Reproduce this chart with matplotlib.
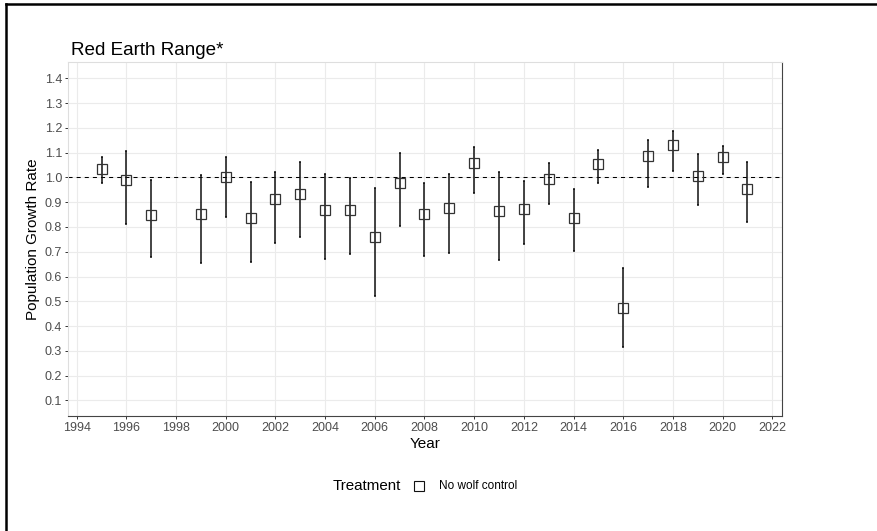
import matplotlib
matplotlib.use("Agg")
import matplotlib.pyplot as plt
from matplotlib.lines import Line2D

plt.rcParams["font.family"] = ["Liberation Sans", "DejaVu Sans"]

title = "Red Earth Range*"
treatment = "No wolf control"

years = [1995, 1996, 1997, 1999, 2000, 2001, 2002, 2003, 2004, 2005, 2006,
         2007, 2008, 2009, 2010, 2011, 2012, 2013, 2014, 2015, 2016, 2017,
         2018, 2019, 2020, 2021]
rate = [1.034, 0.988, 0.849, 0.854, 1.003, 0.836, 0.911, 0.933, 0.868, 0.869,
        0.760, 0.978, 0.854, 0.875, 1.059, 0.864, 0.873, 0.994, 0.836, 1.056,
        0.471, 1.086, 1.130, 1.005, 1.083, 0.955]
lower = [0.978, 0.811, 0.679, 0.654, 0.841, 0.659, 0.736, 0.758, 0.669, 0.690,
         0.522, 0.803, 0.681, 0.694, 0.938, 0.667, 0.730, 0.893, 0.702, 0.977,
         0.316, 0.962, 1.025, 0.887, 1.012, 0.821]
upper = [1.081, 1.105, 0.988, 1.008, 1.081, 0.981, 1.020, 1.061, 1.013, 0.998,
         0.957, 1.100, 0.978, 1.013, 1.124, 1.020, 0.984, 1.059, 0.954, 1.112,
         0.636, 1.151, 1.187, 1.095, 1.128, 1.063]

x_ticks = list(range(1994, 2023, 2))
y_ticks = [round(0.1 * i, 1) for i in range(1, 15)]

W, H = 877, 531
fig = plt.figure(figsize=(W / 100, H / 100), dpi=100)
ax = fig.add_axes([68 / W, 1 - 416 / H, (781.7 - 68) / W, (416 - 62) / H])

err = [[r - lo for r, lo in zip(rate, lower)], [up - r for r, up in zip(rate, upper)]]
ax.errorbar(years, rate, yerr=err, fmt="none", ecolor="#111111",
            elinewidth=1.1, capsize=1.0, capthick=1.1, zorder=3)
ax.plot(years, rate, linestyle="none", marker="s", markersize=6.7,
        markerfacecolor="none", markeredgecolor="#333333",
        markeredgewidth=0.9, zorder=4)
ax.axhline(1.0, color="black", linewidth=0.75, dashes=(3.9, 3.9), zorder=2)

ax.set_xlim(1993.65, 2022.38)
ax.set_ylim(0.037, 1.466)
ax.set_xticks(x_ticks)
ax.set_yticks(y_ticks)
ax.set_yticklabels([f"{v:.1f}" for v in y_ticks])
ax.grid(True, color="#EBEBEB", linewidth=0.8, zorder=0)
ax.set_axisbelow(True)
ax.tick_params(axis="both", length=2.5, width=0.7, color="#333333",
               labelsize=9, labelcolor="#4D4D4D", pad=1.8)

for side in ["top", "left"]:
    ax.spines[side].set_color("#DEDEDE")
    ax.spines[side].set_linewidth(0.8)
for side in ["right", "bottom"]:
    ax.spines[side].set_color("#444444")
    ax.spines[side].set_linewidth(0.8)

ax.set_xlabel("Year", fontsize=11, color="black")
ax.xaxis.set_label_coords(0.5, -(437 - 416) / 354)
ax.set_ylabel("Population Growth Rate", fontsize=11, color="black")
ax.yaxis.set_label_coords((40 - 68) / 713.7, 0.5)

fig.text(70.7 / W, 1 - 55 / H, title, fontsize=13.6, ha="left", va="baseline")

# legend, ggplot style at the bottom
fig.text(333 / W, 1 - 486 / H, "Treatment", fontsize=10.9, ha="left", va="center")
fig.add_artist(Line2D([419.3 / W], [1 - 485.7 / H], marker="s", markersize=7,
                      markerfacecolor="none", markeredgecolor="#111111",
                      markeredgewidth=0.8, transform=fig.transFigure))
fig.text(439 / W, 1 - 486 / H, treatment, fontsize=8.5, ha="left", va="center")

# black frame round the figure
fig.add_artist(Line2D([6 / W, 6 / W], [0, 1 - 3.7 / H], color="black",
                      linewidth=1.8, transform=fig.transFigure))
fig.add_artist(Line2D([6 / W, 1], [1 - 3.7 / H, 1 - 3.7 / H], color="black",
                      linewidth=1.8, transform=fig.transFigure))

fig.savefig("out.png", dpi=100)
